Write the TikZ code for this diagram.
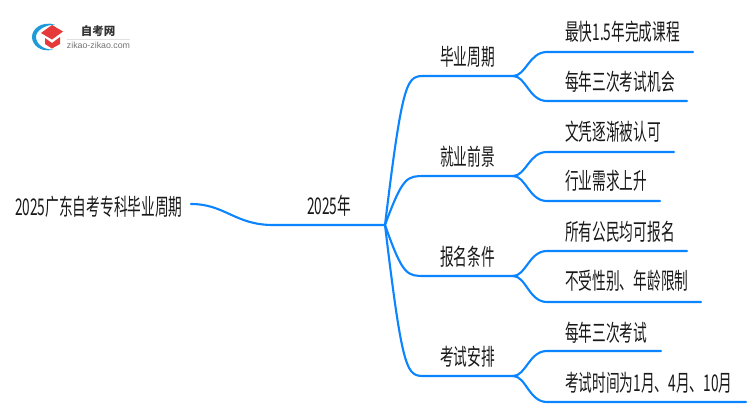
\documentclass[tikz,border=0pt]{standalone}
\usepackage{fontspec}
\usetikzlibrary{calc}
\setmainfont{Noto Sans CJK SC}
\newfontfamily\latinf{Liberation Sans}
\definecolor{linkblue}{HTML}{0A84FF}
\definecolor{logored}{HTML}{E5393A}
\definecolor{logoblue}{HTML}{1E9BD8}
\newcommand{\sq}[1]{\scalebox{0.595}[1]{#1}}
\tikzset{
  lbl/.style={anchor=west,inner sep=0pt,font=\fontsize{23}{25}\selectfont,text=black!90},
  lnk/.style={draw=linkblue,line width=2.1pt,line cap=round},
}
\begin{document}
\begin{tikzpicture}[x=1pt,y=-1pt]
\useasboundingbox (0,0) rectangle (750,410);
\fill[white] (0,0) rectangle (750,410);
% logo
\fill[logoblue] (55,24.5) .. controls (41,21) and (32,29) .. (32,37) .. controls (32,45) and (41,53) .. (53,49.5) .. controls (44,50) and (36,44) .. (36,37) .. controls (36,31) and (44,25) .. (55,24.5) -- cycle;
\fill[logored] (41,33) -- (52,25) -- (63,31.5) -- (52,39.5) -- cycle;
\fill[logored] (45,38) -- (52,43) -- (60,37) -- (60,44) -- (52,48.5) -- (45,44) -- cycle;
\node[inner sep=0pt,font=\fontsize{11.5}{13}\selectfont\bfseries,text=black!80] (logot) at (98,31) {自考网};
\draw[black!12,line width=.6pt] (67,39) -- (130,39);
\node[inner sep=0pt,font=\latinf\fontsize{8.8}{10}\selectfont,text=black!55] (logos) at (98.5,45) {zikao-zikao.com};
% anchors
\coordinate (rootend) at (191,204);
\coordinate (hub) at (385,225);
\coordinate (hubin) at (273,225);
\foreach \n/\y in {a/76,b/176,c/276,d/376}{
  \coordinate (\n0) at (425,\y);
  \coordinate (\n1) at (513,\y);
}
\foreach \n/\y/\x in {a/52/693,b/101/687,c/152/674,d/201/660,e/251/687,f/302/701,g/351/661,h/402/746}{\coordinate (l\n) at (547,\y);\coordinate (e\n) at (\x,\y);}
% texts
\node[lbl] (root) at (15,207) {\sq{2025广东自考专科毕业周期}};
\node[lbl] (year) at (307,206) {\sq{2025年}};
\node[lbl] (t1) at (440,57) {\sq{毕业周期}};
\node[lbl] (t2) at (440,157) {\sq{就业前景}};
\node[lbl] (t3) at (440,257) {\sq{报名条件}};
\node[lbl] (t4) at (440,357) {\sq{考试安排}};
\node[lbl] (ta) at (565,32) {\sq{最快1.5年完成课程}};
\node[lbl] (tb) at (565,82) {\sq{每年三次考试机会}};
\node[lbl] (tc) at (565,132) {\sq{文凭逐渐被认可}};
\node[lbl] (td) at (565,181) {\sq{行业需求上升}};
\node[lbl] (te) at (565,232) {\sq{所有公民均可报名}};
\node[lbl] (tf) at (565,281) {\sq{不受性别、年龄限制}};
\node[lbl] (tg) at (565,333) {\sq{每年三次考试}};
\node[lbl] (th) at (565,383) {\sq{考试时间为1月、4月、10月}};
% connectors
\draw[lnk] (rootend) .. controls (225,204) and (235,225) .. (hubin) -- (hub);
\foreach \n in {a,b,c,d}{
  \draw[lnk] (hub) .. controls ($(\n0)+(-22,0)$) and ($(\n0)+(-18,0)$) .. (\n0) -- (\n1);
}
\foreach \p/\q in {a/a,a/b,b/c,b/d,c/e,c/f,d/g,d/h}{
  \draw[lnk] (\p1) .. controls ($(\p1)+(13,0)$) and ($(l\q)+(-18,0)$) .. (l\q) -- (e\q);
}
\end{tikzpicture}
\end{document}
